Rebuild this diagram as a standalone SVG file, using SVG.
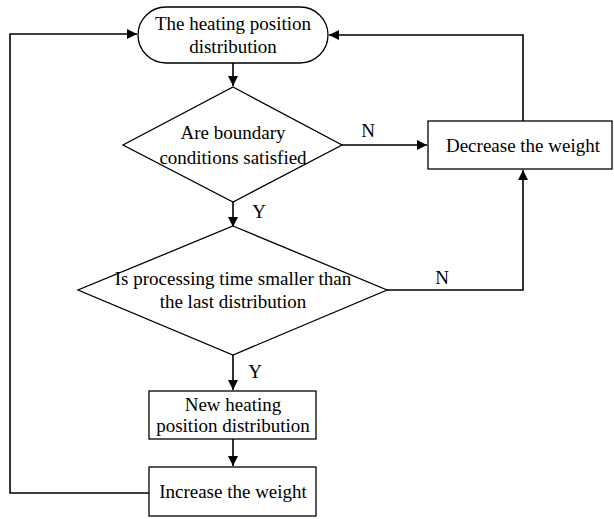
<svg xmlns="http://www.w3.org/2000/svg" width="614" height="519" viewBox="0 0 614 519">
<defs>
<marker id="ah" viewBox="0 0 10 10" refX="10" refY="5" markerWidth="10" markerHeight="10" markerUnits="userSpaceOnUse" orient="auto">
<path d="M0,0 L10,5 L0,10 z" fill="#000"/>
</marker>
<style>
.shape{fill:#fff;stroke:#000;stroke-width:1.3}
.conn{fill:none;stroke:#000;stroke-width:1.6}
text{font-family:"Liberation Serif","Times New Roman",serif;font-size:19px;fill:#000}
.c{text-anchor:middle}
</style>
</defs>
<rect width="614" height="519" fill="#fff"/>
<g id="connectors">
<path class="conn" d="M233,63 V86" marker-end="url(#ah)"/>
<path class="conn" d="M233,202 V227" marker-end="url(#ah)"/>
<path class="conn" d="M233,355 V390" marker-end="url(#ah)"/>
<path class="conn" d="M233,439 V466" marker-end="url(#ah)"/>
<path class="conn" d="M342,145 H427" marker-end="url(#ah)"/>
<path class="conn" d="M387,290 H523 V170" marker-end="url(#ah)"/>
<path class="conn" d="M523,121 V35 H329" marker-end="url(#ah)"/>
<path class="conn" d="M149,493 H10 V34 H137" marker-end="url(#ah)"/>
<text x="368" y="137" class="c">N</text>
<text x="442" y="284" class="c">N</text>
<text x="259" y="218" class="c">Y</text>
<text x="255" y="378" class="c">Y</text>
</g>
<g id="start">
<rect class="shape" x="138" y="7" width="190" height="56" rx="28" ry="28"/>
<text x="233" y="30" class="c">The heating position</text>
<text x="233" y="53" class="c">distribution</text>
</g>
<g id="decision1">
<polygon class="shape" points="233,87 342,145 233,202 123,145"/>
<text x="233" y="139" class="c">Are boundary</text>
<text x="233" y="164" class="c">conditions satisfied</text>
</g>
<g id="decrease">
<rect class="shape" x="428" y="121" width="184" height="48"/>
<text x="523" y="152" class="c">Decrease the weight</text>
</g>
<g id="decision2">
<polygon class="shape" points="233,226 387,290 233,355 78,290"/>
<text x="233" y="285" class="c">Is processing time smaller than</text>
<text x="233" y="308" class="c">the last distribution</text>
</g>
<g id="newdist">
<rect class="shape" x="149" y="391" width="167" height="48"/>
<text x="233" y="411" class="c">New heating</text>
<text x="233" y="432" class="c">position distribution</text>
</g>
<g id="increase">
<rect class="shape" x="149" y="467" width="167" height="49"/>
<text x="233" y="498" class="c">Increase the weight</text>
</g>
</svg>
